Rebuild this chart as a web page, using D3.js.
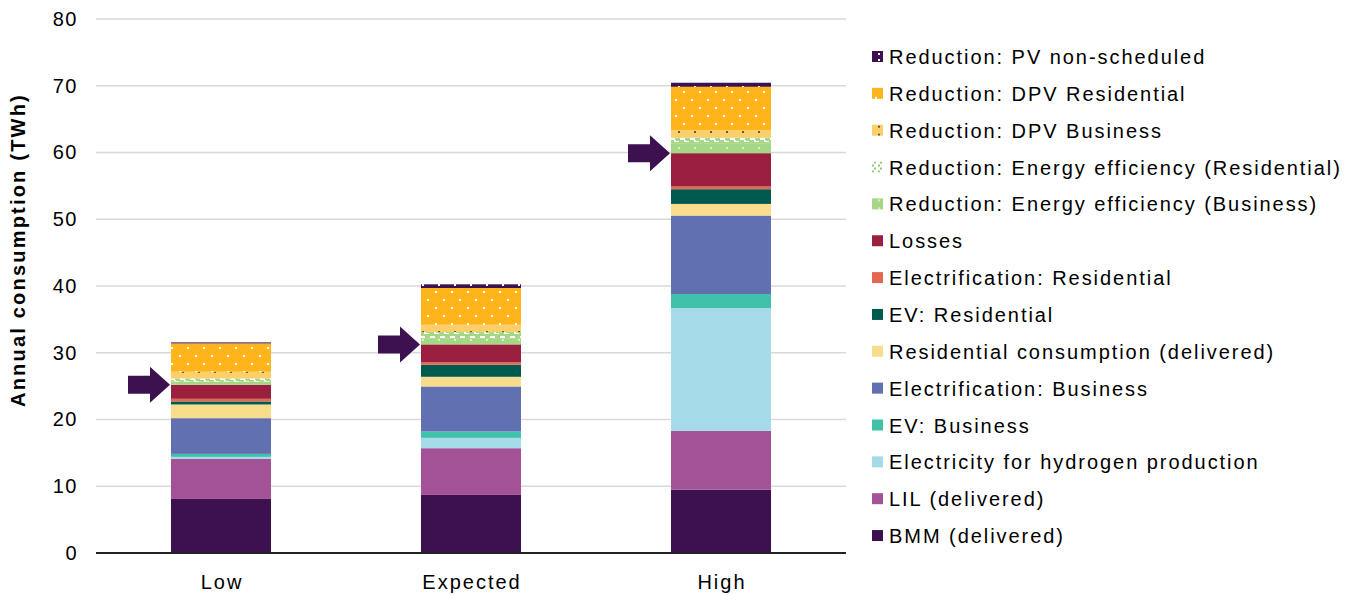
<!DOCTYPE html>
<html>
<head>
<meta charset="utf-8">
<script src="https://cdn.jsdelivr.net/npm/d3@7"></script>
<style>
  html, body { margin: 0; padding: 0; background: #ffffff; }
  svg { display: block; font-family: "Liberation Sans", Arial, sans-serif; }
</style>
</head>
<body>
<svg id="chart" width="1349" height="595"></svg>
<script>
// Scenario categories
const categories = ["Low", "Expected", "High"];

// Annual consumption components (TWh), stacked bottom to top
const bmm             = [8.1, 8.7, 9.5];
const lil             = [6.0, 7.0, 8.8];
const hydrogen        = [0.3, 1.55, 18.4];
const evBusiness      = [0.45, 0.95, 2.1];
const elecBusiness    = [5.35, 6.75, 11.75];
const resConsumption  = [2.05, 1.45, 1.75];
const evResidential   = [0.45, 1.8, 2.2];
const elecResidential = [0.4, 0.35, 0.4];
const losses          = [2.1, 2.7, 5.0];
const eeBusiness      = [0.5, 0.95, 1.5];
const eeResidential   = [0.45, 0.9, 0.85];
const dpvBusiness     = [1.0, 1.1, 1.1];
const dpvResidential  = [4.25, 5.5, 6.5];
const pvNonScheduled  = [0.15, 0.55, 0.6];

const yTicks = [0, 10, 20, 30, 40, 50, 60, 70, 80];

const series = [
  { key: "bmm",   name: "BMM (delivered)",                         values: bmm,             fill: "#3d1150" },
  { key: "lil",   name: "LIL (delivered)",                         values: lil,             fill: "#a35298" },
  { key: "h2",    name: "Electricity for hydrogen production",     values: hydrogen,        fill: "#a5dbe8" },
  { key: "evb",   name: "EV: Business",                            values: evBusiness,      fill: "#40c1a9" },
  { key: "elb",   name: "Electrification: Business",               values: elecBusiness,    fill: "#6070b0" },
  { key: "res",   name: "Residential consumption (delivered)",     values: resConsumption,  fill: "#f8dd8c" },
  { key: "evr",   name: "EV: Residential",                         values: evResidential,   fill: "#005a4e" },
  { key: "elr",   name: "Electrification: Residential",            values: elecResidential, fill: "#e4674f" },
  { key: "loss",  name: "Losses",                                  values: losses,          fill: "#9b2040" },
  { key: "eeb",   name: "Reduction: Energy efficiency (Business)", values: eeBusiness,      fill: "url(#pEEB)" },
  { key: "eer",   name: "Reduction: Energy efficiency (Residential)", values: eeResidential, fill: "url(#pEER)", legendFill: "url(#pEERLeg)" },
  { key: "dpvb",  name: "Reduction: DPV Business",                 values: dpvBusiness,     fill: "url(#pDPVB)" },
  { key: "dpvr",  name: "Reduction: DPV Residential",              values: dpvResidential,  fill: "url(#pDPVR)" },
  { key: "pvns",  name: "Reduction: PV non-scheduled",             values: pvNonScheduled,  fill: "url(#pPVNS)" }
];

const svg = d3.select("#chart");

// ---- fill patterns for the reduction components ----
const defs = svg.append("defs");
function pattern(id, w, h, bg) {
  const p = defs.append("pattern").attr("id", id)
    .attr("patternUnits", "userSpaceOnUse").attr("width", w).attr("height", h);
  p.append("rect").attr("width", w).attr("height", h).attr("fill", bg);
  return p;
}
// PV non-scheduled: dark purple with sparse white dots
pattern("pPVNS", 16, 6, "#3d1150")
  .append("rect").attr("x", 6).attr("y", 2).attr("width", 2).attr("height", 2).attr("fill", "#ffffff");
// DPV Residential: orange with staggered white dots
{
  const p = pattern("pDPVR", 16, 16, "#fdb51b");
  p.append("rect").attr("x", 3).attr("y", 3).attr("width", 2).attr("height", 2).attr("fill", "#ffffff");
  p.append("rect").attr("x", 11).attr("y", 11).attr("width", 2).attr("height", 2).attr("fill", "#ffffff");
}
// DPV Business: light orange with grey dots
pattern("pDPVB", 16, 8, "#fdcf6a")
  .append("rect").attr("x", 6).attr("y", 3).attr("width", 2).attr("height", 2).attr("fill", "#6b5a3a");
// Energy efficiency (Business): green with pale dots
pattern("pEEB", 16, 8, "#a6d785")
  .append("rect").attr("x", 6).attr("y", 3).attr("width", 2).attr("height", 2).attr("fill", "#d9efc9");
// Energy efficiency (Residential): green with white stepped dashes
{
  const p = pattern("pEER", 10, 6, "#a6d785");
  p.append("rect").attr("x", 0).attr("y", 0).attr("width", 5).attr("height", 2).attr("fill", "#ffffff");
  p.append("rect").attr("x", 4).attr("y", 2).attr("width", 2).attr("height", 2).attr("fill", "#ffffff");
  p.append("rect").attr("x", 6).attr("y", 3).attr("width", 3).attr("height", 1).attr("fill", "#ffffff");
}
// legend swatch version: mostly white with green specks
{
  const p = pattern("pEERLeg", 6, 6, "#ffffff");
  p.append("rect").attr("x", 2).attr("y", 0).attr("width", 2).attr("height", 2).attr("fill", "#8cc96a");
  p.append("rect").attr("x", 0).attr("y", 3).attr("width", 2).attr("height", 2).attr("fill", "#8cc96a");
}

// ---- scales ----
const x = d3.scaleBand().domain(categories).range([96, 846])
  .paddingInner(0.6).paddingOuter(0.3);
const y = d3.scaleLinear().domain([0, 80]).range([553, 19]);

// gridlines
svg.append("g").selectAll("line").data(yTicks.filter(t => t > 0)).join("line")
  .attr("x1", 96).attr("x2", 846)
  .attr("y1", d => y(d)).attr("y2", d => y(d))
  .attr("stroke", "#d9d9d9").attr("stroke-width", 1.5);

// y axis labels
const yAxis = d3.axisLeft(y).tickValues(yTicks).tickSize(0).tickPadding(0);
const yg = svg.append("g").attr("transform", "translate(78,0)").call(yAxis);
yg.select(".domain").remove();
yg.selectAll("text").attr("font-size", 20).attr("fill", "#000")
  .attr("letter-spacing", 1.5)
  .attr("font-family", "Liberation Sans, Arial, sans-serif");

// axis title
svg.append("text")
  .attr("transform", `translate(25,250) rotate(-90)`)
  .attr("text-anchor", "middle")
  .attr("font-size", 20).attr("font-weight", "bold").attr("fill", "#000")
  .attr("letter-spacing", 2.2)
  .text("Annual consumption (TWh)");

// ---- stacked bars ----
const rows = categories.map((c, i) => {
  const r = { cat: c };
  series.forEach(s => { r[s.key] = s.values[i]; });
  return r;
});
const stacked = d3.stack().keys(series.map(s => s.key))(rows);

const barG = svg.append("g");
stacked.forEach((layer, li) => {
  barG.append("g").attr("fill", series[li].fill)
    .selectAll("rect").data(layer).join("rect")
    .attr("x", d => x(d.data.cat))
    .attr("width", x.bandwidth())
    .attr("y", d => y(d[1]))
    .attr("height", d => y(d[0]) - y(d[1]));
});

// baseline
svg.append("line").attr("x1", 96).attr("x2", 846)
  .attr("y1", y(0)).attr("y2", y(0))
  .attr("stroke", "#222").attr("stroke-width", 2);

// x labels
svg.append("g").selectAll("text").data(categories).join("text")
  .attr("x", d => x(d) + x.bandwidth() / 2 + 1)
  .attr("y", 589)
  .attr("text-anchor", "middle")
  .attr("font-size", 20).attr("fill", "#000")
  .attr("letter-spacing", 2)
  .text(d => d);

// arrows marking the top of losses (start of reductions)
const lossLayer = stacked[series.findIndex(s => s.key === "loss")];
svg.append("g").selectAll("path").data(lossLayer).join("path")
  .attr("d", d => {
    const tx = x(d.data.cat) - 1, ty = y(d[1]);
    return `M${tx},${ty} L${tx - 20},${ty - 18} L${tx - 20},${ty - 9} L${tx - 42},${ty - 9}` +
           ` L${tx - 42},${ty + 9} L${tx - 20},${ty + 9} L${tx - 20},${ty + 18} Z`;
  })
  .attr("fill", "#3d1150");

// ---- legend ----
const legendItems = series.slice().reverse();
const lg = svg.append("g").selectAll("g").data(legendItems).join("g")
  .attr("transform", (d, i) => `translate(872,${57 + i * 36.85})`);
lg.append("rect").attr("x", 0).attr("y", -6).attr("width", 11).attr("height", 11)
  .attr("fill", d => d.legendFill || d.fill);
lg.append("text").attr("x", 17).attr("y", 7)
  .attr("font-size", 20).attr("fill", "#000")
  .attr("letter-spacing", 1.95)
  .text(d => d.name);
</script>
</body>
</html>
